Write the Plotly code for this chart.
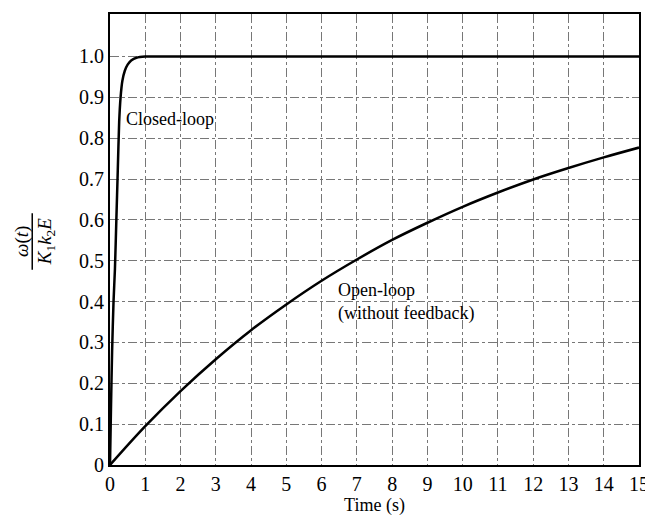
import plotly.graph_objects as go

# closed-loop response
t_closed = [0, 0.03, 0.06, 0.1, 0.14, 0.18, 0.22, 0.26, 0.3, 0.35, 0.42, 0.5, 0.6, 0.75, 1.0, 1.3, 15]
w_closed = [0, 0.15, 0.28, 0.4, 0.48, 0.6, 0.72, 0.84, 0.9, 0.94, 0.965, 0.98, 0.99, 0.997, 1.0, 1.0, 1.0]

# open-loop response (without feedback)
t_open = [0, 1, 2, 3, 4, 5, 6, 7, 8, 9, 10, 11, 12, 13, 14, 15]
w_open = [0, 0.095, 0.181, 0.259, 0.33, 0.393, 0.451, 0.503, 0.551, 0.593, 0.632, 0.667, 0.699, 0.727, 0.753, 0.777]

x_ticks = list(range(16))
y_ticks = [0, 0.1, 0.2, 0.3, 0.4, 0.5, 0.6, 0.7, 0.8, 0.9, 1.0]
y_labels = ['0', '0.1', '0.2', '0.3', '0.4', '0.5', '0.6', '0.7', '0.8', '0.9', '1.0']

serif = 'Liberation Serif'

fig = go.Figure()
fig.add_trace(go.Scatter(x=t_closed, y=w_closed, mode='lines', line=dict(color='black', width=2.5, shape='spline', smoothing=0.6)))
fig.add_trace(go.Scatter(x=t_open, y=w_open, mode='lines', line=dict(color='black', width=2.5, shape='spline')))

fig.add_annotation(x=0.4, y=0.847, text='Closed-loop', showarrow=False, xanchor='left',
                   font=dict(family=serif, size=18, color='black'))
fig.add_annotation(x=6.4, y=0.40, text='Open-loop<br>(without feedback)', showarrow=False, xanchor='left',
                   align='left', font=dict(family=serif, size=18, color='black'))

# y axis title as a rotated fraction
fig.add_annotation(xref='paper', yref='paper', x=-0.166, y=0.495, xanchor='center', yanchor='middle',
                   text='<i>ω</i>(<i>t</i>)', textangle=-90,
                   showarrow=False, font=dict(family=serif, size=19, color='black'))
fig.add_annotation(xref='paper', yref='paper', x=-0.122, y=0.495, xanchor='center', yanchor='middle',
                   text='<i>K</i><sub>1</sub><i>k</i><sub>2</sub><i>E</i>',
                   textangle=-90, showarrow=False, font=dict(family=serif, size=19, color='black'))
fig.add_shape(type='line', xref='paper', yref='paper', x0=-0.147, x1=-0.147, y0=0.433, y1=0.558,
              line=dict(color='black', width=1.5))

grid = dict(showgrid=True, gridcolor='#777', gridwidth=1, griddash='dashdot', zeroline=False,
            showline=True, linecolor='black', linewidth=2, mirror=True, ticks='',
            tickfont=dict(family=serif, size=20, color='black'))

# page body has an 8px margin, so keep the figure inside the window
fig.update_layout(
    width=645, height=508, showlegend=False,
    plot_bgcolor='white', paper_bgcolor='white',
    margin=dict(l=102, r=12, t=4, b=49),
    xaxis=dict(range=[0, 15], tickvals=x_ticks,
               title=dict(text='Time (s)', font=dict(family=serif, size=18, color='black'), standoff=4), **grid),
    yaxis=dict(range=[0, 1.104], tickvals=y_ticks, ticktext=y_labels, **grid),
)

fig.write_html("out.html")
